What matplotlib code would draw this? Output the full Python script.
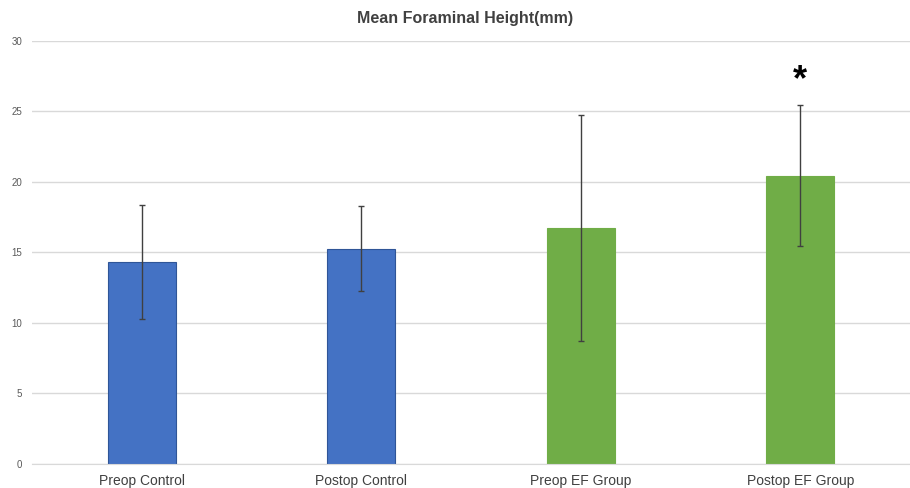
import numpy as np
import matplotlib.pyplot as plt

plt.rcParams['font.family'] = ['Liberation Sans', 'DejaVu Sans']

# data
groups = ['Preop Control', 'Postop Control', 'Preop EF Group', 'Postop EF Group']
means = [14.3, 15.27, 16.75, 20.46]
sds = [4.05, 3.0, 8.03, 4.98]
bar_colors = ['#4472C4', '#4472C4', '#70AD47', '#70AD47']
edge_colors = ['#2F5597', '#2F5597', '#70AD47', '#70AD47']
yticks = [0, 5, 10, 15, 20, 25, 30]

fig = plt.figure(figsize=(9.1, 4.88), dpi=100)
ax = fig.add_axes([0.0352, 0.0492, 0.9648, 0.8668])

x = np.arange(len(groups))
ax.bar(x, means, width=0.31, color=bar_colors, edgecolor=edge_colors,
       linewidth=0.8, zorder=2)
ax.errorbar(x, means, yerr=sds, fmt='none', ecolor='#404040',
            elinewidth=1.0, capsize=2.5, capthick=1.0, zorder=3)

# significance marker above last bar
ax.text(x[-1], means[-1] + sds[-1] + 1.75, '*', ha='center', va='center',
        fontsize=26, fontweight='bold', color='black')

ax.set_xlim(-0.5, 3.5)
ax.set_ylim(0, 30)
ax.set_yticks(yticks)
ax.set_xticks(x)
ax.set_xticklabels(groups, fontsize=10, color='#404040')
ax.tick_params(axis='y', labelsize=7, colors='#595959', length=0, pad=7)
ax.tick_params(axis='x', length=0, pad=7)

ax.grid(axis='y', color='#D9D9D9', linewidth=1.0, zorder=0)
ax.set_axisbelow(True)
for s in ['top', 'right', 'left']:
    ax.spines[s].set_visible(False)
ax.spines['bottom'].set_color('#D9D9D9')

fig.text(0.511, 0.963, 'Mean Foraminal Height(mm)', ha='center', va='center',
         fontsize=11.5, fontweight='bold', color='#404040')

plt.savefig('out.png', dpi=100, facecolor='white')
